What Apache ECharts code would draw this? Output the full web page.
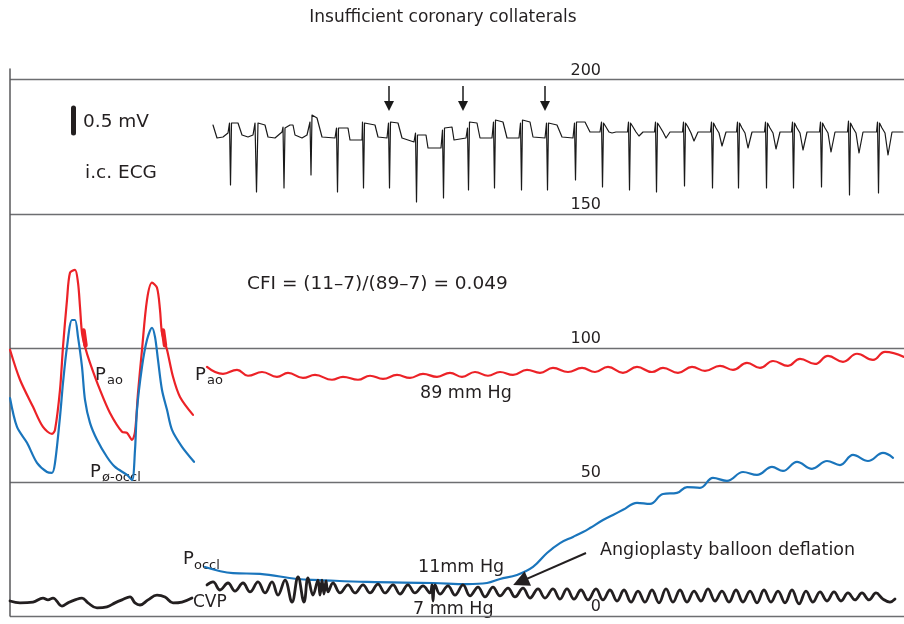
<!DOCTYPE html>
<html><head><meta charset="utf-8">
<script src="https://cdn.jsdelivr.net/npm/echarts@6/dist/echarts.min.js"></script>
<style>html,body{margin:0;padding:0;background:#fff}#c{width:904px;height:624px}</style>
</head><body><div id="c"></div>
<script>
// x: recording time (arbitrary units), y: pressure in mm Hg, ECG in mV
const pressureTicks = [0, 50, 100, 150, 200];

const ecgTrace = [
  [203,0.18],[207,-0.08],[213,-0.06],[218,0.02],[219.5,0.22],[220.5,-1.02],[221.5,0.22],[228,0.22],[232,-0.02],[238,-0.06],
  [243,-0.02],[245,0.22],[246.5,-1.16],[248,0.22],[255,0.18],[258,-0.06],[265,-0.08],[272,0.04],[273,0.14],[274,-1.08],
  [275,0.12],[280,0.18],[283,0.18],[285,-0.02],[292,-0.08],[297,-0.02],[300,0.24],[301,-0.82],[302,0.38],[307,0.32],
  [312,-0.06],[325,-0.08],[326.5,0.12],[327.5,-1.16],[328.5,0.12],[338,0.12],[340,-0.12],[352,-0.12],[352.5,0.24],[353.5,-1.08],
  [354.5,0.22],[365,0.18],[368,-0.06],[377,-0.08],[378.5,0.22],[379.5,-1.08],[380.5,0.24],[388,0.22],[392,-0.08],[404,-0.16],
  [405.5,0.02],[406.5,-1.36],[407.5,-0.02],[416,-0.02],[418,-0.28],[431,-0.28],[432.5,0.08],[433.5,-1.28],[434.5,0.12],[442,0.14],
  [444,-0.12],[456,-0.08],[457.5,0.12],[458.5,-1.12],[459.5,0.24],[467,0.22],[470,-0.08],[482,-0.08],[483.5,0.24],[484.5,-1.08],
  [485.5,0.28],[493,0.24],[497,-0.08],[509,-0.08],[510.5,0.22],[511.5,-1.12],[512.5,0.28],[520,0.24],[523,-0.06],[535,-0.08],
  [536.5,0.22],[537.5,-1.12],[538.5,0.22],[547,0.18],[552,-0.06],[563,-0.08],[564.5,0.22],[565.5,-0.92],[566.5,0.24],[575,0.24],
  [580,0.04],[590,0.04],
  [591.5,0.24],[592.5,-1.06],[593.5,0.22],[596,0.14],[599,0.04],[602,0.02],[606,0.04],
  [617.5,0.04],[618.5,0.24],[619.5,-1.12],[620.5,0.22],[623,0.14],[626,0.04],[629,-0.04],[633,0.04],
  [644.5,0.04],[645.5,0.24],[646.5,-1.16],[647.5,0.22],[650,0.14],[653,0.04],[656,-0.08],[660,0.04],
  [672.5,0.04],[673.5,0.24],[674.5,-1.04],[675.5,0.22],[678,0.14],[681,0.02],[684,-0.14],[688,0.04],
  [700.5,0.04],[701.5,0.24],[702.5,-1.08],[703.5,0.22],[706,0.12],[709,0.02],[712,-0.24],[716,0.04],
  [726.5,0.04],[727.5,0.24],[728.5,-1.08],[729.5,0.22],[732,0.12],[735,0.02],[738,-0.28],[742,0.04],
  [754.5,0.04],[755.5,0.24],[756.5,-1.08],[757.5,0.22],[760,0.12],[763,0.02],[766,-0.30],[770,0.04],
  [781.5,0.04],[782.5,0.24],[783.5,-1.08],[784.5,0.22],[787,0.12],[790,0.02],[793,-0.32],[797,0.04],
  [809.5,0.04],[810.5,0.24],[811.5,-1.06],[812.5,0.22],[815,0.12],[818,0.02],[821,-0.36],[825,0.04],
  [837.5,0.04],[838.5,0.26],[839.5,-1.22],[840.5,0.22],[843,0.12],[846,0.02],[849,-0.38],[853,0.04],
  [866.5,0.04],[867.5,0.24],[868.5,-1.18],[869.5,0.22],[872,0.12],[875,0.02],[878,-0.42],[882,0.04],
  [893,0.04]
];
const ecgMarkerTimes = [379, 453, 535];
const ecgMarkerMv = [0.96, 0.56];
const scaleBarMv = [0.02, 0.52];

// aortic pressure (red), two beats before occlusion
const paoBeats = [
  [0,99.3],[10,88.1],[23,78.0],[33,70.5],[42,67.9],[45,69.4],[50,84.3],[53,100.4],[57,117.9],[60,128.0],
  [65,129.1],[68,124.3],[70,115.3],[72,105.6],[75,100.4],[80,94.4],[90,84.3],[100,75.7],[112,68.7],[117,68.3],
  [122,65.7],[125,68.7],[128,83.2],[132,99.3],[137,117.9],[142,124.3],[147,122.4],[150,114.2],[152,105.6],[157,99.3],
  [163,89.2],[170,81.7],[183,75.0]
];
const paoNotches = [[[73.5,106.5],[75.5,101]], [[153,106.5],[155,101]]];
// distal coronary pressure (blue), same two beats
const pDistalBeats = [
  [0,81.3],[7,70.5],[17,64.6],[27,57.1],[37,53.7],[42,53.4],[45,57.1],[50,74.3],[53,86.9],[57,100.4],
  [62,110.4],[65,110.4],[68,104.1],[72,92.9],[75,80.6],[80,72.0],[87,65.7],[97,59.3],[105,55.6],[117,52.6],
  [122,50.7],[125,61.9],[127,76.9],[132,92.9],[137,103.0],[142,107.5],[145,104.1],[148,95.5],[152,84.3],[157,76.9],
  [162,69.4],[172,63.1],[184,57.5]
];
// mean aortic pressure during occlusion (red)
const paoMean = [
  [197,92.9],[213,90.3],[227,91.8],[238,89.6],[252,91.0],[267,89.2],[278,90.7],[293,88.8],[305,89.9],[322,88.1],
  [333,89.2],[348,88.1],[360,89.6],[373,88.4],[387,89.9],[400,88.8],[413,90.3],[427,89.2],[440,90.7],[452,89.2],
  [465,91.0],[478,89.6],[490,91.0],[503,89.9],[517,91.8],[530,90.7],[543,92.5],[558,91.0],[572,92.5],[585,91.0],
  [598,92.9],[613,90.7],[627,92.9],[642,91.0],[653,92.5],[668,90.7],[682,92.9],[695,91.4],[710,93.3],[723,91.8],
  [737,94.4],[750,92.5],[763,95.1],[778,93.3],[790,95.9],[805,94.0],[818,97.0],[833,94.8],[847,97.8],[863,95.5],
  [875,98.5],[894,96.6]
];
// mean coronary occlusive pressure (blue)
const pOccl = [
  [195,18.3],[223,16.0],[250,15.7],[287,13.8],[310,13.4],[357,12.7],[423,12.3],[457,11.9],[477,12.3],[490,13.8],
  [507,15.3],[523,18.3],[537,23.5],[550,27.2],[563,29.5],[573,31.3],[580,32.8],[593,35.8],[603,37.7],[613,39.6],
  [627,42.2],[640,41.8],[653,45.5],[667,45.9],[677,48.1],[690,47.8],[703,51.5],[717,50.4],[733,53.7],[747,52.6],
  [762,55.6],[773,54.1],[787,57.5],[802,54.9],[817,57.8],[830,56.3],[843,60.1],[858,57.8],[873,60.8],[883,59.0]
];
// central venous pressure (black)
const cvpFirst = [
  [0,5.6],[10,4.9],[23,5.2],[33,6.7],[38,6.0],[43,6.7],[52,3.7],[58,4.9],[65,6.0],[72,6.7],
  [78,4.9],[87,3.0],[97,3.4],[105,4.9],[112,6.0],[120,7.1],[125,4.9],[130,4.1],[138,6.0],[147,7.8],
  [155,7.1],[163,4.9],[172,5.2],[182,6.7]
];
const cvpSecond = [
  [197,11.6],[203,12.7],[210,9.7],[218,12.3],[225,9.3],[233,12.3],[240,9.0],[248,12.7],[255,8.6],[262,12.7],
  [268,7.8],[275,13.4],[282,5.2],[288,14.6],[294,5.2],[298,14.2],[303,7.8],[308,13.4],[310,7.8],[312,13.4],
  [314,8.2],[316,13.1],[318,9.0],[323,12.3],[330,8.6],[338,11.6],[345,8.6],[353,11.6],[360,8.6],[368,11.9],
  [375,8.6],[383,11.6],[390,8.2],[398,11.6],[405,8.6],[413,11.2],[420,8.6],[422,11.6],[423,5.6],[425,11.6],
  [430,8.2],[438,11.2],[445,7.8],[453,11.6],[460,7.5],[468,10.8],[475,7.1],[483,10.8],[490,7.5],[498,10.4],
  [505,7.1],[513,10.4],[520,6.7],[528,10.1],[535,6.7],[543,10.1],[550,6.3],[557,10.1],[564,6.3],[571,9.7],
  [578,6.0],[586,10.1],[593,6.0],[600,9.7],[607,5.6],[614,9.7],[621,5.2],[628,9.3],[635,5.2],[642,9.7],
  [649,4.9],[656,10.1],[663,5.2],[670,9.7],[677,5.2],[684,9.3],[691,5.6],[698,10.1],[705,5.6],[712,9.3],
  [719,5.2],[726,9.7],[733,5.2],[740,9.3],[747,4.9],[754,9.7],[761,5.2],[768,9.3],[775,4.9],[782,9.7],
  [789,4.5],[796,9.3],[803,5.2],[810,9.0],[817,5.6],[824,9.0],[831,5.6],[838,8.6],[845,6.0],[852,8.6],
  [859,6.0],[866,8.6],[873,6.3],[880,5.2],[885,6.3]
];
const deflationArrow = [[576,23.5],[510.5,12.8]];

const FONT = '"DejaVu Sans", sans-serif';
const INK = '#231f20';
const RED = '#ec2227';
const BLUE = '#1a75bc';

function txt(x, y, text, size, align) {
  return { type: 'text', x: x, y: y, silent: true,
    style: { text: text, fontSize: size, fontFamily: FONT, fill: INK,
      align: align || 'left', verticalAlign: 'middle' } };
}

const chart = echarts.init(document.getElementById('c'), null, { renderer: 'canvas' });
const line = (data, color, width, smooth, yi, z) => ({
  type: 'line', data: data, yAxisIndex: yi || 0, showSymbol: false, symbol: 'none',
  smooth: smooth, lineStyle: { color: color, width: width, cap: 'round', join: 'round' },
  silent: true, z: z || 2, clip: false
});

chart.setOption({
  animation: false,
  backgroundColor: '#fff',
  grid: { left: 10, right: 0, top: 69, bottom: 8 },
  xAxis: { type: 'value', min: 0, max: 894, show: false },
  yAxis: [
    { type: 'value', min: 0, max: 204, interval: 50,
      axisLine: { show: true, lineStyle: { color: '#58595b', width: 1.5 } },
      axisTick: { show: false },
      splitLine: { show: true, showMaxLine: false, lineStyle: { color: '#6d6e71', width: 1.3 } },
      axisLabel: { inside: true, margin: 591, align: 'right', verticalAlign: 'bottom',
        fontSize: 16, fontFamily: FONT, color: INK, padding: [0, 0, 1, 0],
        formatter: v => pressureTicks.indexOf(v) >= 0 ? String(v) : '' } },
    { type: 'value', min: -9.64, max: 1.3, show: false }
  ],
  series: [
    Object.assign(line(ecgTrace, '#1a1a1a', 1.2, false, 1, 3), {
      markLine: { silent: true, symbol: ['none', 'triangle'], symbolSize: 10,
        lineStyle: { color: '#1a1a1a', width: 1.5, type: 'solid' }, label: { show: false },
        data: ecgMarkerTimes.map(t => [{ coord: [t, ecgMarkerMv[0]] }, { coord: [t, ecgMarkerMv[1]] }]) }
    }),
    line([[63.5, scaleBarMv[0]], [63.5, scaleBarMv[1]]], '#231f20', 5, false, 1, 3),
    line(paoBeats, RED, 2.2, 0.3),
    ...paoNotches.map(s => line(s, RED, 4.5, false)),
    line(pDistalBeats, BLUE, 2.2, 0.3),
    line(paoMean, RED, 2.2, 0.45),
    line(pOccl, BLUE, 2.2, 0.4),
    line(cvpFirst, '#231f20', 2.8, 0.4),
    Object.assign(line(cvpSecond, '#231f20', 2.8, 0.4), {
      markLine: { silent: true, symbol: ['none', 'triangle'], symbolSize: 16,
        lineStyle: { color: '#231f20', width: 2, type: 'solid' }, label: { show: false },
        data: [[{ coord: deflationArrow[0] }, { coord: deflationArrow[1] }]] }
    })
  ],
  graphic: [
    txt(443, 18, 'Insufficient coronary collaterals', 17, 'center'),
    txt(83, 122, '0.5 mV', 18.5),
    txt(85, 173, 'i.c. ECG', 18.5),
    txt(247, 284, 'CFI = (11–7)/(89–7) = 0.049', 18.5),
    txt(95, 375, 'P', 18), txt(107, 381, 'ao', 13),
    txt(195, 375, 'P', 18), txt(207, 381, 'ao', 13),
    txt(90, 472, 'P', 18), txt(102, 478, 'ø-occl', 13),
    txt(420, 393, '89 mm Hg', 17.5),
    txt(183, 559, 'P', 18), txt(194, 566, 'occl', 13),
    txt(418, 567, '11mm Hg', 17.5),
    txt(193, 603, 'CVP', 17),
    txt(413, 609, '7 mm Hg', 17.5),
    txt(600, 550, 'Angioplasty balloon deflation', 17.5)
  ]
});
</script>
</body></html>
